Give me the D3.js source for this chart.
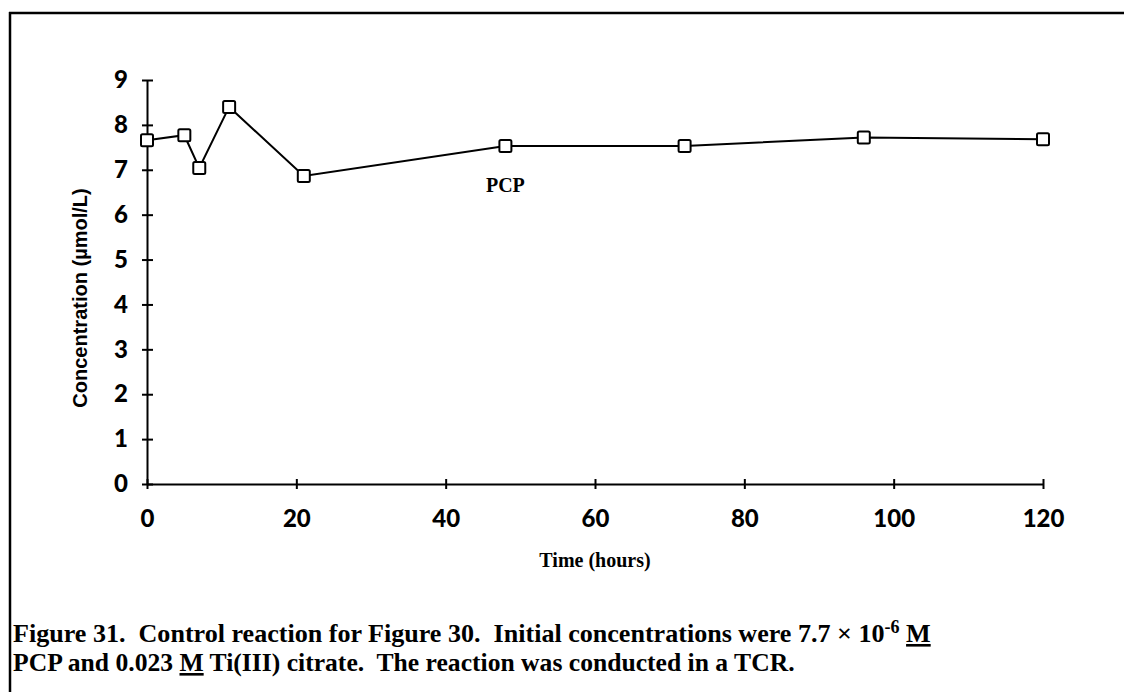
<!DOCTYPE html>
<html>
<head>
<meta charset="utf-8">
<script src="https://cdn.jsdelivr.net/npm/d3@7"></script>
<style>
  body { margin: 0; background: #fff; }
  svg { display: block; }
</style>
</head>
<body>
<script>
// values
const hours = [0, 5, 7, 11, 21, 48, 72, 96, 120]
const pcp = [7.66, 7.77, 7.04, 8.4, 6.86, 7.53, 7.53, 7.72, 7.68]
const xTicks = [0, 20, 40, 60, 80, 100, 120]
const yTicks = [0, 1, 2, 3, 4, 5, 6, 7, 8, 9]

const W = 1124, H = 692

const svg = d3.select("body").append("svg")
  .attr("width", W)
  .attr("height", H)

const x = d3.scaleLinear().domain([0, 120]).range([147, 1043])
const y = d3.scaleLinear().domain([0, 9]).range([484, 80])

// frame of the scanned page: top rule and left rule
svg.append("line")
  .attr("x1", 9).attr("x2", W).attr("y1", 13).attr("y2", 13)
  .attr("stroke", "#000").attr("stroke-width", 2.5)
svg.append("line")
  .attr("x1", 10).attr("x2", 10).attr("y1", 12).attr("y2", H)
  .attr("stroke", "#000").attr("stroke-width", 2.5)

const tickFont = "Lato, 'DejaVu Sans', sans-serif"

// axes, ticks cross the axis line
const xAxis = svg.append("g")
  .attr("transform", "translate(0," + y(0) + ")")
  .call(d3.axisBottom(x).tickValues(xTicks).tickSize(0).tickPadding(26))
xAxis.select(".domain").attr("stroke", "#000").attr("stroke-width", 2)
xAxis.selectAll(".tick").append("line")
  .attr("y1", -5).attr("y2", 5)
  .attr("stroke", "#000").attr("stroke-width", 2)
xAxis.selectAll("text")
  .attr("font-family", tickFont).attr("font-weight", 900)
  .attr("font-size", 24).attr("fill", "#000")

const yAxis = svg.append("g")
  .attr("transform", "translate(" + x(0) + ",0)")
  .call(d3.axisLeft(y).tickValues(yTicks).tickSize(0).tickPadding(19))
yAxis.select(".domain").attr("stroke", "#000").attr("stroke-width", 2)
yAxis.selectAll(".tick").append("line")
  .attr("x1", -5).attr("x2", 6)
  .attr("stroke", "#000").attr("stroke-width", 2)
yAxis.selectAll("text")
  .attr("font-family", tickFont).attr("font-weight", 900)
  .attr("font-size", 24).attr("fill", "#000")

// axis titles
svg.append("text")
  .attr("x", 595).attr("y", 567)
  .attr("text-anchor", "middle")
  .attr("font-family", "'Liberation Serif', serif")
  .attr("font-weight", 700).attr("font-size", 20)
  .text("Time (hours)")

svg.append("text")
  .attr("transform", "translate(87,298) rotate(-90)")
  .attr("text-anchor", "middle")
  .attr("font-family", "'Liberation Sans', Arial, sans-serif")
  .attr("font-weight", 700).attr("font-size", 20)
  .text("Concentration (\u00b5mol/L)")

// series
const pts = hours.map((h, i) => [h, pcp[i]])

svg.append("path")
  .datum(pts)
  .attr("fill", "none")
  .attr("stroke", "#000")
  .attr("stroke-width", 2)
  .attr("d", d3.line().x(d => x(d[0])).y(d => y(d[1])))

const s = 12
svg.selectAll("rect.pt")
  .data(pts)
  .join("rect")
  .attr("class", "pt")
  .attr("x", d => x(d[0]) - s / 2)
  .attr("y", d => y(d[1]) - s / 2)
  .attr("width", s).attr("height", s)
  .attr("rx", 1.5)
  .attr("fill", "#fff")
  .attr("stroke", "#000")
  .attr("stroke-width", 2)

svg.append("text")
  .attr("x", x(48)).attr("y", 192)
  .attr("text-anchor", "middle")
  .attr("font-family", "'Liberation Serif', serif")
  .attr("font-weight", 700).attr("font-size", 20)
  .text("PCP")

// caption, squeezed horizontally like the scan
const capFont = "'Liberation Serif', 'Times New Roman', serif"

function captionLine(yy, width, build) {
  const g = svg.append("g")
  const t = g.append("text")
    .attr("x", 0).attr("y", 0)
    .attr("font-family", capFont)
    .attr("font-weight", 700)
    .attr("font-size", 26)
    .attr("xml:space", "preserve")
    .style("white-space", "pre")
  build(t)
  const len = t.node().getComputedTextLength()
  g.attr("transform", "translate(13," + yy + ") scale(" + (width / len) + ",1)")
}

captionLine(642, 918, t => {
  t.append("tspan").text("Figure 31.  Control reaction for Figure 30.  Initial concentrations were 7.7 \u00d7 10")
  t.append("tspan").attr("dy", -9).attr("font-size", 18).text("-6")
  t.append("tspan").attr("dy", 9).text(" ")
  t.append("tspan").attr("text-decoration", "underline").text("M")
})

captionLine(671, 782, t => {
  t.append("tspan").text("PCP and 0.023 ")
  t.append("tspan").attr("text-decoration", "underline").text("M")
  t.append("tspan").text(" Ti(III) citrate.  The reaction was conducted in a TCR.")
})
</script>
</body>
</html>
